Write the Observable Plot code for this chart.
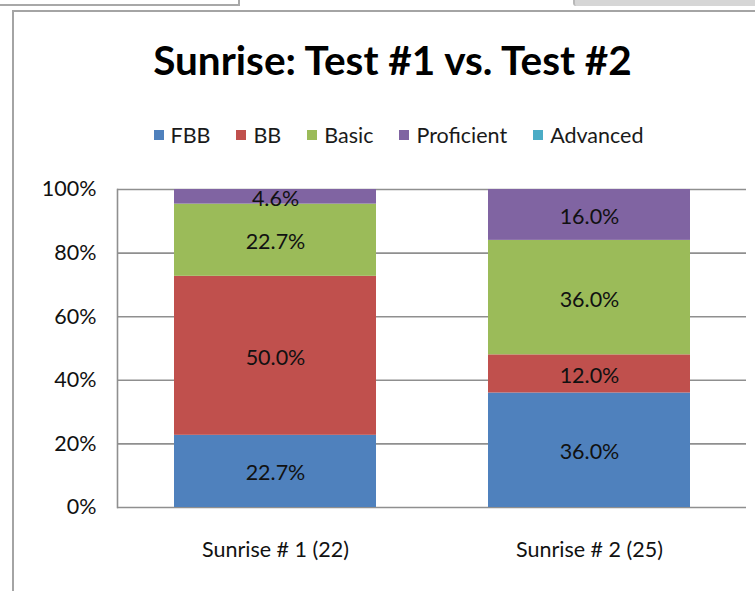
<!DOCTYPE html>
<html>
<head>
<meta charset="utf-8">
<script src="https://cdn.jsdelivr.net/npm/d3@7"></script>
<script src="https://cdn.jsdelivr.net/npm/@observablehq/plot@0.6"></script>
<style>
  html, body { margin: 0; padding: 0; background: #fff; }
  body { width: 755px; height: 591px; position: relative; overflow: hidden; font-family: Lato, "Open Sans", sans-serif; color: #111; }
  .ui-left { position: absolute; left: -6px; top: -10px; width: 246px; height: 16px; box-sizing: border-box; border-right: 2px solid #a8a8a8; border-bottom: 2px solid #a8a8a8; }
  .ui-right { position: absolute; left: 573px; top: -10px; width: 200px; height: 16px; box-sizing: border-box; border-left: 2px solid #b8b8b8; background: #d6d6d6; border-bottom-left-radius: 3px; }
  .frame { position: absolute; left: 12px; top: 10px; width: 800px; height: 700px; border-left: 2px solid #a4a4a4; border-top: 2px solid #a4a4a4; }
  .title { position: absolute; left: 0; width: 785px; top: 35px; text-align: center; font-weight: bold; font-size: 40.5px; line-height: 50px; color: #000; }
  .legend { position: absolute; left: 0; width: 797px; top: 121px; display: flex; justify-content: center; gap: 26px; font-size: 21.5px; line-height: 28px; color: #1a1a1a; }
  .legend span.item { display: flex; align-items: center; gap: 7px; }
  .legend span.sw { width: 10px; height: 10px; display: inline-block; }
  #chart { position: absolute; left: 0; top: 160px; }
</style>
</head>
<body>
<div class="ui-left"></div>
<div class="ui-right"></div>
<div class="frame"></div>
<div class="title">Sunrise: Test #1 vs. Test #2</div>
<div class="legend" id="legend"></div>
<div id="chart"></div>
<script>
const categories = ["Sunrise # 1 (22)", "Sunrise # 2 (25)"];
const seriesNames = ["FBB", "BB", "Basic", "Proficient", "Advanced"];
const seriesColors = ["#4F81BD", "#C0504D", "#9BBB59", "#8064A2", "#4BACC6"];
const sunrise1 = [22.7, 50.0, 22.7, 4.6, 0];
const sunrise2 = [36.0, 12.0, 36.0, 16.0, 0];
const yTicks = [0, 0.2, 0.4, 0.6, 0.8, 1.0];

const values = [sunrise1, sunrise2];
const data = [];
categories.forEach((c, i) => {
  seriesNames.forEach((s, j) => {
    data.push({category: c, series: s, order: j, value: values[i][j] / 100});
  });
});

// legend
const legend = document.getElementById("legend");
seriesNames.forEach((s, j) => {
  const it = document.createElement("span");
  it.className = "item";
  const sw = document.createElement("span");
  sw.className = "sw";
  sw.style.background = seriesColors[j];
  const t = document.createElement("span");
  t.textContent = s;
  it.appendChild(sw); it.appendChild(t);
  legend.appendChild(it);
});

const chart = Plot.plot({
  width: 755,
  height: 431,
  marginTop: 29,
  marginBottom: 84,
  marginLeft: 117,
  marginRight: 9,
  style: {fontFamily: "Lato, 'Open Sans', sans-serif", fontSize: "21px", color: "#111", background: "transparent"},
  x: {domain: categories, paddingInner: 0.358, paddingOuter: 0.179, label: null},
  y: {domain: [0, 1], label: null},
  color: {domain: seriesNames, range: seriesColors},
  marks: [
    Plot.ruleY(yTicks, {stroke: "#8f8f8f", strokeWidth: 1.6}),
    Plot.frame({anchor: "left", stroke: "#8f8f8f", strokeWidth: 1.6}),
    Plot.barY(data, Plot.stackY({x: "category", y: "value", fill: "series", order: seriesNames})),
    Plot.text(data.filter(d => d.value > 0), Plot.stackY({
      x: "category", y: "value", z: "series", order: seriesNames,
      text: d => (d.value * 100).toFixed(1) + "%",
      fill: "#111", fontSize: 21.5, dy: 2
    })),
    Plot.axisY(yTicks, {tickSize: 0, tickPadding: 21, tickFormat: d => Math.round(d * 100) + "%", fontSize: 21.5, label: null}),
    Plot.axisX({tickSize: 0, tickPadding: 34, fontSize: 21.5, label: null})
  ]
});
document.getElementById("chart").appendChild(chart);
</script>
</body>
</html>
